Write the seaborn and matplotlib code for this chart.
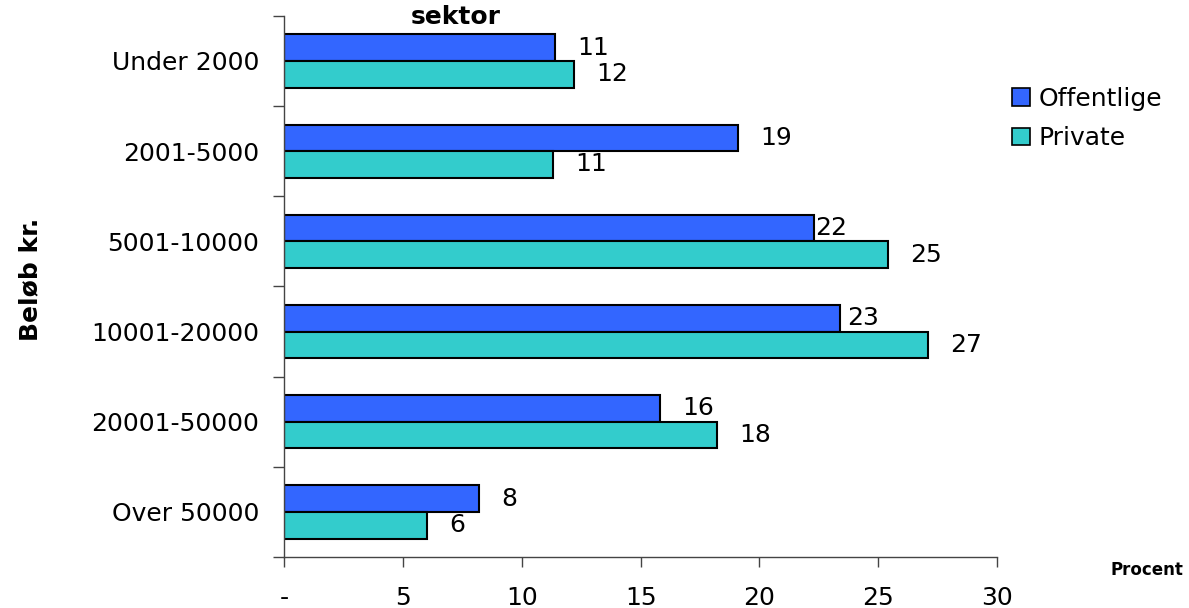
import matplotlib
matplotlib.use("Agg")
import matplotlib.pyplot as plt
from matplotlib.patches import Patch
import seaborn as sns
import pandas as pd

categories = ["Under 2000", "2001-5000", "5001-10000", "10001-20000", "20001-50000", "Over 50000"]
offentlige = [11.4, 19.1, 22.3, 23.4, 15.8, 8.2]
private = [12.2, 11.3, 25.4, 27.1, 18.2, 6.0]
series_names = ["Offentlige", "Private"]
x_ticks = [0, 5, 10, 15, 20, 25, 30]
x_tick_labels = ["-", "5", "10", "15", "20", "25", "30"]

colors = ["#3366FF", "#33CCCC"]

sns.set_theme(style="white")
plt.rcParams["font.family"] = ["DejaVu Sans"]
plt.rcParams["text.color"] = "black"
plt.rcParams["xtick.color"] = "black"
plt.rcParams["ytick.color"] = "black"

df = pd.DataFrame({
    "Beløb": categories * 2,
    "Procent": offentlige + private,
    "Sektor": [series_names[0]] * len(categories) + [series_names[1]] * len(categories),
})

fig = plt.figure(figsize=(11.89, 6.08), dpi=100)
ax = fig.add_axes([0.2389, 0.0839, 0.5997, 0.8900])

sns.barplot(data=df, x="Procent", y="Beløb", hue="Sektor", order=categories,
            hue_order=series_names, palette=colors, orient="h", width=0.59,
            edgecolor="black", linewidth=1.5, ax=ax, legend=False, saturation=1)

ax.set_xlim(0, 30)
ax.set_ylim(len(categories) - 0.5, -0.5)

# value labels, nudged closer to the bar where space is tight
label_gap = {(0, 2): 0.5, (0, 3): 5}
for si, cont in enumerate(ax.containers):
    vals = [offentlige, private][si]
    for ci, (bar, v) in enumerate(zip(cont, vals)):
        yc = bar.get_y() + bar.get_height() / 2
        ax.annotate(f"{v:.0f}", xy=(bar.get_width(), yc),
                    xytext=(label_gap.get((si, ci), 16), 0), textcoords="offset points",
                    ha="left", va="center", fontsize=18, color="black")

# axes styling
for s in ["top", "right"]:
    ax.spines[s].set_visible(False)
for s in ["left", "bottom"]:
    ax.spines[s].set_color("#444444")
    ax.spines[s].set_linewidth(1.0)

ax.set_xticks(x_ticks)
ax.set_xticklabels(x_tick_labels, fontsize=18)
ax.tick_params(axis="x", direction="out", length=7, width=1, color="#444444", pad=14, bottom=True)

ax.set_yticks(range(len(categories)))
ax.set_yticklabels(categories, fontsize=18)
ax.tick_params(axis="y", which="major", length=0, pad=18)
ax.set_yticks([i - 0.5 for i in range(len(categories) + 1)], minor=True)
ax.tick_params(axis="y", which="minor", direction="out", length=8, width=1, color="#444444", left=True)

ax.set_xlabel("")
ax.set_ylabel("")

fig.text(0.025, 0.54, "Beløb kr.", rotation=90, fontsize=18, fontweight="bold",
         ha="center", va="center")
fig.text(0.965, 0.063, "Procent", fontsize=12, fontweight="bold", ha="center", va="center")
fig.text(0.383, 0.972, "sektor", fontsize=18, fontweight="bold", ha="center", va="center")

handles = [Patch(facecolor=c, edgecolor="black", linewidth=1.2) for c in colors]
fig.legend(handles, series_names, loc="upper left", bbox_to_anchor=(0.843, 0.874),
           frameon=False, fontsize=18, handlelength=0.7, handleheight=0.7,
           handletextpad=0.35, labelspacing=0.62, borderaxespad=0)

fig.savefig("out.png", dpi=100)
